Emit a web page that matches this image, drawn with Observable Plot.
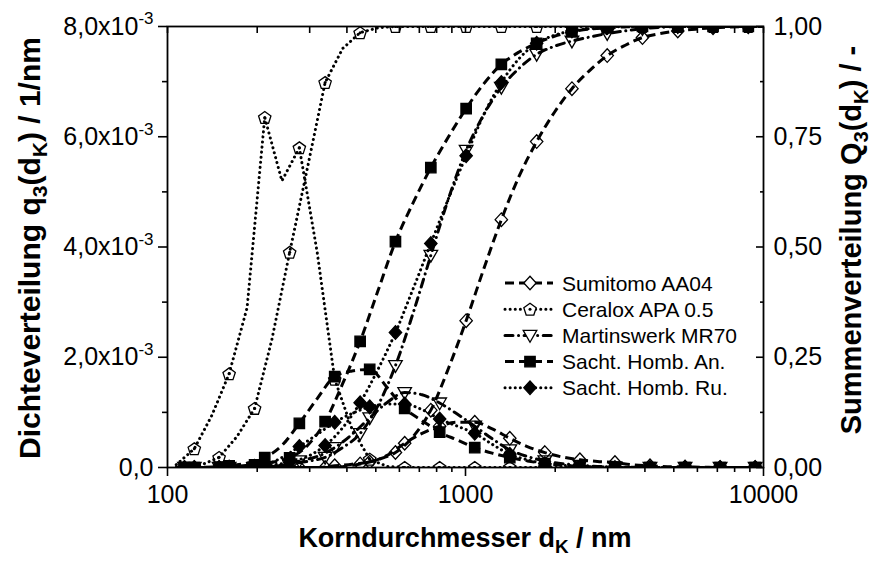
<!DOCTYPE html>
<html><head><meta charset="utf-8">
<script src="https://cdn.jsdelivr.net/npm/d3@7"></script>
<script src="https://cdn.jsdelivr.net/npm/@observablehq/plot@0.6"></script>
<style>body{margin:0;background:#fff}#chart{width:877px;height:561px}</style>
</head><body><div id="chart"></div>
<script>
// ---------- data ----------
const seriesNames = ["Sumitomo AA04","Ceralox APA 0.5","Martinswerk MR70","Sacht. Homb. An.","Sacht. Homb. Ru."];
// particle size classes (nm) for density q3 and cumulative Q3
const densX = [107,123,141,161,185,212,242,277,318,364,416,477,546,625,715,819,938,1074,1230,1408,1612,1846,2114,2420,2771,3173,3633,4160,4764,5454,6245,7151,8188,9376];
const cumX  = [114,130,149,171,196,224,257,295,338,387,443,508,582,667,765,877,1005,1151,1319,1512,1733,1986,2276,2608,2989,3425,3925,4499,5156,5908,6771,7760,8893,10000];
// density q3 in 10^-3 1/nm
const densSumitomo = [0,0,0,0,0,0,0,0,0,0.03,0.06,0.1,0.22,0.44,0.62,0.75,0.82,0.82,0.7,0.53,0.38,0.27,0.19,0.14,0.11,0.09,0.05,0.03,0.015,0.01,0.005,0,0,0];
const densCeralox  = [0.05,0.34,0.95,1.7,2.9,6.35,5.2,5.8,3.9,1.6,0.7,0.15,0.02,0,0,0,0,0,0,0,0,0,0,0,0,0,0,0,0,0,0,0,0,0];
const densMartins  = [0,0,0,0,0,0.01,0.04,0.12,0.2,0.36,0.6,0.9,1.18,1.36,1.32,1.17,0.97,0.75,0.52,0.32,0.2,0.12,0.07,0.04,0.02,0.01,0.005,0,0,0,0,0,0,0];
const densSachtAn  = [0,0,0.01,0.03,0.08,0.18,0.4,0.8,1.25,1.65,1.75,1.78,1.45,1.07,0.85,0.64,0.5,0.36,0.26,0.18,0.12,0.07,0.04,0.02,0.01,0.005,0,0,0,0,0,0,0,0];
const densSachtRu  = [0,0,0,0.01,0.02,0.05,0.18,0.38,0.6,0.82,0.98,1.1,1.15,1.15,1.05,0.88,0.75,0.62,0.42,0.24,0.14,0.07,0.04,0.02,0.01,0,0,0,0,0,0,0,0,0];
// cumulative Q3 (0..1)
const cumSumitomo = [0,0,0,0,0,0,0,0,0,0.002,0.008,0.018,0.034,0.07,0.13,0.225,0.333,0.45,0.562,0.66,0.739,0.805,0.859,0.9,0.934,0.957,0.975,0.984,0.99,0.994,0.997,0.999,1,1];
const cumCeralox  = [0,0.006,0.023,0.07,0.134,0.29,0.488,0.68,0.873,0.95,0.986,0.997,1,1,1,1,1,1,1,1,1,1,1,1,1,1,1,1,1,1,1,1,1,1];
const cumMartins  = [0,0,0,0,0,0.002,0.008,0.014,0.023,0.045,0.077,0.14,0.231,0.35,0.481,0.61,0.719,0.8,0.862,0.905,0.937,0.955,0.967,0.976,0.984,0.99,0.995,0.998,1,1,1,1,1,1];
const cumSachtAn  = [0,0,0.001,0.003,0.006,0.012,0.022,0.05,0.104,0.19,0.286,0.4,0.512,0.6,0.68,0.75,0.814,0.87,0.914,0.942,0.962,0.978,0.988,0.994,0.997,0.999,1,1,1,1,1,1,1,1];
const cumSachtRu  = [0,0,0,0.001,0.003,0.006,0.012,0.025,0.05,0.09,0.147,0.222,0.306,0.405,0.508,0.61,0.707,0.8,0.873,0.927,0.962,0.98,0.99,0.995,0.998,1,1,1,1,1,1,1,1,1];
// ticks
const xTicks = [100,1000,10000];
const xTickLabels = ["100","1000","10000"];
const xMinor = [200,300,400,500,600,700,800,900,2000,3000,4000,5000,6000,7000,8000,9000];
const leftTicks = [0,2,4,6,8];
const leftTickLabels = ["0,0","2,0x10^-3","4,0x10^-3","6,0x10^-3","8,0x10^-3"];
const leftMinor = [1,3,5,7];
const rightTicks = [0,0.25,0.5,0.75,1];
const rightTickLabels = ["0,00","0,25","0,50","0,75","1,00"];
const rightMinor = [0.125,0.375,0.625,0.875];

// ---------- styles ----------
const FONT = "Liberation Sans, Arial, Helvetica, sans-serif";
const QMAX = 8; // left axis max (10^-3) corresponds to Q3 = 1
const mk = (pts) => ({draw(ctx){ ctx.moveTo(pts[0][0],pts[0][1]); for (let k=1;k<pts.length;k++) ctx.lineTo(pts[k][0],pts[k][1]); ctx.closePath(); }});
const symDiamond = mk([[0,-6.8],[6.2,0],[0,6.8],[-6.2,0]]);
const symSquare = mk([[-5.2,-5.2],[5.2,-5.2],[5.2,5.2],[-5.2,5.2]]);
const symTriDown = mk([[-6.8,-5],[6.8,-5],[0,6.8]]);
const symPentagon = mk(d3.range(5).map(k => { const a = -Math.PI/2 + k*2*Math.PI/5; return [6.5*Math.cos(a), 6.5*Math.sin(a)+0.6]; }));
const styles = {
  "Sumitomo AA04":    {dens: densSumitomo, cum: cumSumitomo, dash:"9,5", cap:"butt", sym: symDiamond, fill:"none"},
  "Ceralox APA 0.5":  {dens: densCeralox,  cum: cumCeralox,  dash:"0.1,5", cap:"round", sym: symPentagon, fill:"none", dot:true, curve:"linear"},
  "Martinswerk MR70": {dens: densMartins,  cum: cumMartins,  dash:"8,5.5,0.1,5.5", cap:"round", sym: symTriDown, fill:"none"},
  "Sacht. Homb. An.": {dens: densSachtAn,  cum: cumSachtAn,  dash:"9,5", cap:"butt", sym: symSquare, fill:"black"},
  "Sacht. Homb. Ru.": {dens: densSachtRu,  cum: cumSachtRu,  dash:"0.1,5", cap:"round", sym: symDiamond, fill:"black"}
};
const LW = 3;

// ---------- marks ----------
const marks = [];
for (const name of seriesNames) {
  const s = styles[name];
  const dens = densX.map((x,i) => ({x, y: s.dens[i], i}));
  const cum = cumX.map((x,i) => ({x, y: s.cum[i]*QMAX, i}));
  for (const rows of [dens, cum]) {
    marks.push(Plot.line(rows, {x:"x", y:"y", stroke:"black", strokeWidth:LW, strokeDasharray:s.dash, strokeLinecap:s.cap, curve: s.curve || "monotone-x", clip:true}));
  }
  const dm = dens.filter(d => d.i % 2 === 1);
  const cm = cum.filter(d => d.i % 2 === 0);
  for (const pts of [dm, cm]) {
    marks.push(Plot.dot(pts, {x:"x", y:"y", r:5, symbol:s.sym, fill:s.fill, stroke:"black", strokeWidth:1.3, clip:true}));
    if (s.dot) marks.push(Plot.dot(pts, {x:"x", y:"y", r:1.5, fill:"black", clip:true}));
  }
}

const chart = Plot.plot({
  width: 877, height: 561,
  marginLeft: 167, marginRight: 114, marginTop: 26, marginBottom: 94,
  style: {fontFamily: FONT, fontSize: "25px", color: "black", background: "white", overflow: "visible"},
  x: {type: "log", domain: [100, 10000]},
  y: {domain: [0, QMAX]},
  marks: [
    ...marks,
    Plot.frame({stroke:"black", strokeWidth:1.8}),
    Plot.axisX({ticks: xTicks, anchor:"bottom", tickSize:9, tickPadding:9, strokeWidth:1.6, fontSize:25, label:null,
      tickFormat: d => xTickLabels[xTicks.indexOf(d)]}),
    Plot.axisX({ticks: xMinor, anchor:"bottom", tickSize:5, strokeWidth:1.6, label:null, tickFormat: () => ""}),
    Plot.axisX({ticks: [...xTicks, ...xMinor], anchor:"top", tickSize:-6, strokeWidth:1.6, label:null, tickFormat: () => ""}),
    Plot.axisY({ticks: leftTicks, anchor:"left", tickSize:9, tickPadding:5, strokeWidth:1.6, fontSize:25, label:null,
      tickFormat: d => leftTickLabels[leftTicks.indexOf(d)]}),
    Plot.axisY({ticks: leftMinor, anchor:"left", tickSize:5, strokeWidth:1.6, label:null, tickFormat: () => ""}),
    Plot.axisY({ticks: rightTicks.map(v => v*QMAX), anchor:"right", tickSize:-8, strokeWidth:1.6, label:null, tickFormat: () => ""}),
    Plot.axisY({ticks: rightMinor.map(v => v*QMAX), anchor:"right", tickSize:-4, strokeWidth:1.6, label:null, tickFormat: () => ""}),
    Plot.axisY({ticks: rightTicks.map(v => v*QMAX), anchor:"right", tickSize:0, tickPadding:10, fontSize:25, label:null,
      tickFormat: d => rightTickLabels[rightTicks.indexOf(d/QMAX)]})
  ]
});
document.getElementById("chart").appendChild(chart);

// ---------- post-processing: superscripts, titles, legend ----------
const svg = d3.select(chart);
svg.selectAll("text").each(function() {
  const t = d3.select(this), s = t.text();
  if (s.includes("^")) {
    const [m, e] = s.split("^");
    t.text("");
    t.append("tspan").text(m);
    t.append("tspan").attr("dy", "-0.6em").attr("font-size", "0.68em").text(e);
  }
});

function title(x, y, rot, parts, size) {
  const t = svg.append("text")
    .attr("transform", `translate(${x},${y}) rotate(${rot})`)
    .attr("text-anchor", "middle").attr("font-family", FONT).attr("font-weight", "bold")
    .attr("font-size", size).attr("fill", "black");
  let shifted = false;
  for (const [txt, kind] of parts) {
    const sp = t.append("tspan").text(txt);
    if (kind === "sub") { sp.attr("font-size", "0.7em").attr("dy", "0.32em"); shifted = true; }
    else if (shifted) { sp.attr("dy", "-0.224em"); shifted = false; }
  }
}
title(465, 547, 0, [["Korndurchmesser d","n"],["K","sub"],[" / nm","n"]], 27);
title(40, 248, -90, [["Dichteverteilung q","n"],["3","sub"],["(d","n"],["K","sub"],[") / 1/nm","n"]], 30);
title(861, 240, -90, [["Summenverteilung Q","n"],["3","sub"],["(d","n"],["K","sub"],[") / -","n"]], 29);

const lg = svg.append("g");
seriesNames.forEach((name, k) => {
  const s = styles[name], y = 283 + k * 26.2;
  lg.append("line").attr("x1", 505).attr("x2", 553).attr("y1", y).attr("y2", y)
    .attr("stroke", "black").attr("stroke-width", LW).attr("stroke-dasharray", s.dash).attr("stroke-linecap", s.cap);
  const p = d3.path(); s.sym.draw(p);
  lg.append("path").attr("d", p.toString()).attr("transform", `translate(530,${y})`)
    .attr("fill", s.fill === "none" ? "white" : s.fill).attr("stroke", "black").attr("stroke-width", 1.3);
  if (s.dot) lg.append("circle").attr("cx", 530).attr("cy", y).attr("r", 1.5).attr("fill", "black");
  lg.append("text").attr("x", 562).attr("y", y + 7.5).attr("text-anchor", "start")
    .attr("font-family", FONT).attr("font-size", 21).attr("fill", "black").text(name);
});
</script></body></html>
